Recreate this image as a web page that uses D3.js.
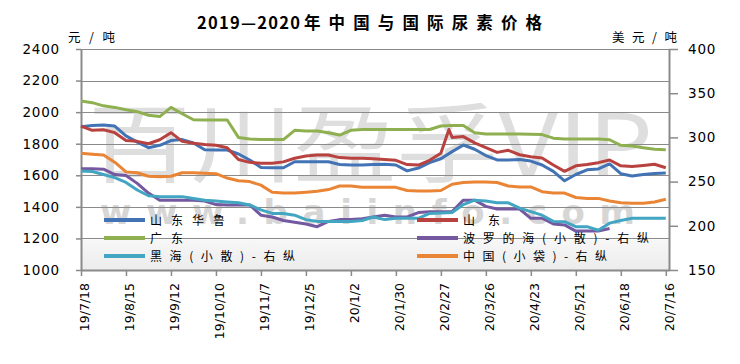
<!DOCTYPE html>
<html><head><meta charset="utf-8">
<script src="https://cdn.jsdelivr.net/npm/d3@7/dist/d3.min.js"></script>
<style>body{margin:0;background:#fff}svg{display:block}</style>
</head><body>
<svg id="chart" width="740" height="364"></svg>
<script>
// ---- categories (dates) ----
const dates = [
"2019-07-18","2019-07-25","2019-08-01","2019-08-08","2019-08-15","2019-08-22","2019-08-29","2019-09-05","2019-09-12","2019-09-19","2019-09-26","2019-10-03","2019-10-10","2019-10-17","2019-10-24","2019-10-31","2019-11-07","2019-11-14","2019-11-21","2019-11-28","2019-12-05","2019-12-12","2019-12-19","2019-12-26",
"2020-01-02","2020-01-09","2020-01-16","2020-01-23","2020-01-30","2020-02-06","2020-02-13","2020-02-20","2020-02-27","2020-03-03",
"2020-03-05","2020-03-12","2020-03-19","2020-03-26","2020-04-02","2020-04-09","2020-04-16","2020-04-23","2020-04-30","2020-05-07","2020-05-14","2020-05-21","2020-05-28","2020-06-04","2020-06-11","2020-06-18","2020-06-25","2020-07-02","2020-07-09","2020-07-16"];
const xTickDates = ["2019-07-18","2019-08-15","2019-09-12","2019-10-10","2019-11-07","2019-12-05","2020-01-02","2020-01-30","2020-02-27","2020-03-26","2020-04-23","2020-05-21","2020-06-18","2020-07-16"];
const leftTicks = [1000,1200,1400,1600,1800,2000,2200,2400];
const rightTicks = [150,200,250,300,350,400];

// ---- series (left axis, 元/吨) ----
const shandongHualu = [1908,1915,1918,1912,1850,1810,1775,1790,1820,1826,1805,1762,1760,1760,1735,1697,1650,1648,1648,1686,1686,1686,1686,1668,
 1665,1665,1668,1670,1665,1628,1646,1680,1705,null,
 1750,1792,1765,1725,1697,1697,1700,1690,1665,1625,1565,1605,1635,1640,1672,1610,1595,1605,1612,1615];
const shandong = [1912,1885,1888,1870,1820,1815,1800,1825,1870,1815,1803,1795,1790,1775,1700,1682,1676,1676,1685,1708,1722,1728,1728,1712,
 1708,1708,1705,1700,1695,1668,1665,1695,1740,1890,
 1840,1845,1805,1775,1745,1758,1730,1718,1709,1665,1625,1660,1668,1680,1697,1660,1655,1662,1670,1648];
const guangdong = [2070,2060,2040,2030,2015,2003,1980,1972,2030,1990,1952,1950,1950,1950,1840,1830,1826,1826,1826,1885,1880,1880,1870,1855,
 1885,1890,1890,1890,1890,1890,1890,1890,1912,null,
 1915,1915,1870,1862,1862,1862,1862,1860,1858,1835,1830,1830,1830,1830,1825,1790,1785,1775,1765,1762];
// ---- series (right axis, 美元/吨) ----
const baltic = [264.5,264.5,264,258,257,248,237,229,229,229,229,228,224,223.6,223.6,223.6,212,210,206,204,202,199,205,207,
 207,208,210,212,210,210,215,216,216,null,
 216,229,229,222,219,219,219,208.5,208.5,202,201,194,194,194,197,null,null,null,null,null];
const blackSea = [262,261.5,258,254.5,249,240.5,234,233,233,233,231,229,228,227,226,223.6,218,214,214,212,207,205,205,205,
 205,206,210,207,208.5,208.5,208.5,214,214.5,null,
 215,224,229,228,226,226,220,216,212,205,204.7,199,199,195,203,206,208.5,208.5,208.5,208.5];
const china = [282,281,280,272,261,260,256,255.6,256,260,260,259.5,259,254,251,250,246,238,237,237,238,239,241,245,
 245,243.5,243.5,243.5,243.5,240,239.5,239.5,240,null,
 247,249,249.5,249.5,249,245,244,244,238.6,237,237,232,231,231,228,226,225.5,225.5,227,230];

const seriesNames = ["山东华鲁","山东","广东","波罗的海(小散)-右纵","黑海(小散)-右纵","中国(小袋)-右纵"];
const seriesColors = ["#4273b5","#b8423f","#8fb050","#7459a0","#42a5c2","#ea8536"];
const seriesData = [shandongHualu, shandong, guangdong, baltic, blackSea, china];
const seriesAxis = ["L","L","L","R","R","R"];

const parse = d3.timeParse("%Y-%m-%d");
const svg = d3.select("#chart");
const M = {l:81, r:669, t:49, b:270};

const x = d3.scaleTime().domain([parse("2019-07-18"), parse("2020-07-18")]).range([M.l, M.r]);
const yL = d3.scaleLinear().domain([1000,2400]).range([M.b, M.t]);
const yR = d3.scaleLinear().domain([150,400]).range([M.b, M.t]);

// watermark band
const defs = svg.append("defs");
const g1 = defs.append("linearGradient").attr("id","band").attr("x1",0).attr("y1",0).attr("x2",0).attr("y2",1);
g1.append("stop").attr("offset","0%").attr("stop-color","#f7f7f7");
g1.append("stop").attr("offset","100%").attr("stop-color","#ececec");
svg.append("rect").attr("x",M.l).attr("y",yL(1200)+1).attr("width",M.r-M.l).attr("height",M.b-yL(1200)-1).attr("fill","url(#band)");

// watermark text
svg.append("text").attr("x",88).attr("y",176).attr("font-family","'Noto Sans CJK SC'").attr("font-size",86)
  .attr("fill","#dedede").attr("textLength",565).attr("lengthAdjust","spacingAndGlyphs").text("百川盈孚VIP");
svg.append("text").attr("x",100).attr("y",224).attr("font-family","'DejaVu Sans'").attr("font-weight","bold").attr("font-size",34)
  .attr("fill","#d6d6d6").attr("textLength",535).attr("lengthAdjust","spacing").text("www.baiinfo.com");

// gridlines
svg.append("g").selectAll("line").data(leftTicks).join("line")
  .attr("x1",M.l).attr("x2",M.r).attr("y1",d=>Math.round(yL(d))+0.5).attr("y2",d=>Math.round(yL(d))+0.5)
  .attr("stroke","#8a8a8a").attr("stroke-width",1.2);

// axes
function styleAxis(g){
  g.select(".domain").attr("stroke","#8a8a8a").attr("stroke-width",2);
  g.selectAll(".tick line").attr("stroke","#8a8a8a").attr("stroke-width",1.5);
  g.selectAll("text").attr("fill","#000");
}
svg.append("g").attr("transform",`translate(${M.l},0)`)
  .call(d3.axisLeft(yL).tickValues(leftTicks).tickSize(5).tickPadding(16).tickSizeOuter(0).tickFormat(d3.format("d")))
  .call(styleAxis)
  .call(g=>g.selectAll("text").attr("font-family","'DejaVu Sans'").attr("font-size",13.5).attr("letter-spacing","0.8px"));
svg.append("g").attr("transform",`translate(${M.r},0)`)
  .call(d3.axisRight(yR).tickValues(rightTicks).tickSize(9).tickPadding(10).tickSizeOuter(0).tickFormat(d3.format("d")))
  .call(styleAxis)
  .call(g=>g.selectAll("text").attr("font-family","'DejaVu Sans'").attr("font-size",13.5).attr("letter-spacing","0.8px"));
const fmt = d => `${String(d.getFullYear()).slice(2)}/${d.getMonth()+1}/${d.getDate()}`;
svg.append("g").attr("transform",`translate(0,${M.b})`)
  .call(d3.axisBottom(x).tickValues(xTickDates.map(parse)).tickSize(6).tickSizeOuter(0).tickFormat(fmt))
  .call(styleAxis)
  .call(g=>g.selectAll("text").attr("font-family","'DejaVu Sans'").attr("font-size",12.5)
     .attr("transform","rotate(-90)").attr("text-anchor","end").attr("x",-13).attr("y",0).attr("dy","0.6em"));

// lines
const lineG = svg.append("g");
seriesData.forEach((vals,i)=>{
  const ys = seriesAxis[i]==="L" ? yL : yR;
  const pts = dates.map((d,j)=>({d:parse(d), v:vals[j]})).filter(p=>p.v!=null);
  lineG.append("path").datum(pts)
    .attr("fill","none").attr("stroke",seriesColors[i]).attr("stroke-width",3).attr("stroke-linejoin","round")
    .attr("d", d3.line().x(p=>x(p.d)).y(p=>ys(p.v)));
});

// legend
const legendPos = [
  {x:104, y:220, tw:75}, {x:417, y:220, tw:37},
  {x:104, y:238, tw:33}, {x:417, y:238, tw:186},
  {x:104, y:256, tw:145}, {x:417, y:256, tw:144}
];
const lg = svg.append("g");
seriesNames.forEach((n,i)=>{
  const p = legendPos[i];
  lg.append("line").attr("x1",p.x).attr("x2",p.x+41).attr("y1",p.y).attr("y2",p.y)
    .attr("stroke",seriesColors[i]).attr("stroke-width",4);
  lg.append("text").attr("x",p.x+46).attr("y",p.y+4.5).attr("font-family","'Noto Sans CJK SC'").attr("font-size",12)
    .attr("textLength",p.tw).attr("lengthAdjust","spacing").attr("fill","#000").text(n);
});

// title & units
const title = svg.append("text").attr("y",29).attr("font-family","'Noto Sans CJK SC'").attr("font-weight","bold")
  .attr("font-size",16.5).attr("fill","#000");
title.append("tspan").attr("x",197).attr("textLength",103).attr("lengthAdjust","spacing").text("2019—2020");
title.append("tspan").attr("x",304).attr("textLength",238).attr("lengthAdjust","spacing").text("年中国与国际尿素价格");
svg.append("text").attr("x",68).attr("y",42).attr("font-family","'Noto Sans CJK SC'").attr("font-size",12.5)
  .attr("textLength",47).attr("lengthAdjust","spacing").text("元/吨");
svg.append("text").attr("x",612).attr("y",42).attr("font-family","'Noto Sans CJK SC'").attr("font-size",12.5)
  .attr("textLength",65).attr("lengthAdjust","spacing").text("美元/吨");
</script>
</body></html>
